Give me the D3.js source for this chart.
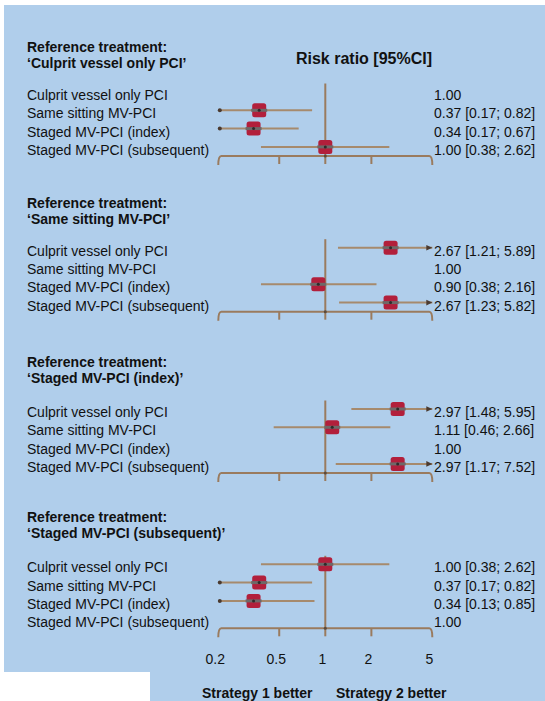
<!DOCTYPE html>
<html><head><meta charset="utf-8">
<script src="https://cdn.jsdelivr.net/npm/d3@7"></script>
<style>
html,body{margin:0;padding:0;background:#fff;}
svg{display:block;font-family:"Liberation Sans",Arial,Helvetica,sans-serif;}
</style></head>
<body>
<svg id="chart" width="545" height="701"></svg>
<script>
// ---- data ----
const treatments = ["Culprit vessel only PCI", "Same sitting MV-PCI", "Staged MV-PCI (index)", "Staged MV-PCI (subsequent)"];
const references = ["Culprit vessel only PCI", "Same sitting MV-PCI", "Staged MV-PCI (index)", "Staged MV-PCI (subsequent)"];
const rrValues = [
  [1.00, 0.37, 0.34, 1.00],
  [2.67, 1.00, 0.90, 2.67],
  [2.97, 1.11, 1.00, 2.97],
  [1.00, 0.37, 0.34, 1.00]
];
const ciLower = [
  [null, 0.17, 0.17, 0.38],
  [1.21, null, 0.38, 1.23],
  [1.48, 0.46, null, 1.17],
  [0.38, 0.17, 0.13, null]
];
const ciUpper = [
  [null, 0.82, 0.67, 2.62],
  [5.89, null, 2.16, 5.82],
  [5.95, 2.66, null, 7.52],
  [2.62, 0.82, 0.85, null]
];
const tickValues = [0.2, 0.5, 1, 2, 5];
const tickLabels = ["0.2", "0.5", "1", "2", "5"];
const axisTitle = "Risk ratio [95%CI]";
const leftLabel = "Strategy 1 better";
const rightLabel = "Strategy 2 better";

// ---- layout ----
const panelRow1 = [92, 247.7, 409, 564.3];
const headerOffset = [-40, -40, -42, -42];
const rowStep = 18.3;
const bg = "#b0ceeb";
const lineCol = "#a68a6d";
const axisCol = "#9a7b5e";
const boxCol = "#b21f3b";

const svg = d3.select("#chart");
svg.append("rect").attr("x",4).attr("y",5).attr("width",541).attr("height",667).attr("fill",bg);
svg.append("rect").attr("x",150).attr("y",671).attr("width",395).attr("height",30).attr("fill",bg);

const x = d3.scaleLog().domain([0.2, 5]).range([218.3, 432.3]);
const fmt = d3.format(".2f");

svg.append("text").attr("x",364).attr("y",64).attr("text-anchor","middle")
  .attr("font-size",16).attr("font-weight","bold").attr("fill","#111").text(axisTitle);

references.forEach((ref, p) => {
  const r1 = panelRow1[p];
  const g = svg.append("g");
  const yRow = i => r1 + i*rowStep;
  const axisY = r1 + 64;
  // header
  g.append("text").attr("x",27).attr("y",r1+headerOffset[p]).attr("font-size",14).attr("font-weight","bold")
    .attr("fill","#111").text("Reference treatment:");
  g.append("text").attr("x",27).attr("y",r1+headerOffset[p]+16).attr("font-size",14).attr("font-weight","bold")
    .attr("fill","#111").text("\u2018" + ref + "\u2019");
  // vertical line at 1
  g.append("line").attr("x1",x(1)).attr("x2",x(1)).attr("y1",r1-8.5).attr("y2",axisY)
    .attr("stroke",axisCol).attr("stroke-width",2);
  // axis
  const x0 = x(0.2), x5 = x(5);
  g.append("path").attr("d",`M${x0},${axisY+9} Q${x0},${axisY} ${x0+3},${axisY} H${x5-3} Q${x5},${axisY} ${x5},${axisY+9}`)
    .attr("fill","none").attr("stroke",axisCol).attr("stroke-width",2);
  tickValues.slice(1,-1).forEach(t => {
    g.append("line").attr("x1",x(t)).attr("x2",x(t)).attr("y1",axisY).attr("y2",axisY+8)
      .attr("stroke",axisCol).attr("stroke-width",2);
  });
  g.append("circle").attr("cx",x(1)).attr("cy",axisY).attr("r",1.5).attr("fill","#5a4a3c");

  treatments.forEach((t, i) => {
    const y = yRow(i);
    g.append("text").attr("x",27).attr("y",y+8).attr("font-size",14).attr("fill","#111").text(t);
    const v = rrValues[p][i], lo = ciLower[p][i], hi = ciUpper[p][i];
    const label = lo == null ? fmt(v) : `${fmt(v)} [${fmt(lo)}; ${fmt(hi)}]`;
    g.append("text").attr("x",434).attr("y",y+8).attr("font-size",14).attr("fill","#111").text(label);
    if (lo == null) return;
    const xl = x(Math.max(lo, 0.2)), xh = x(Math.min(hi, 5));
    g.append("line").attr("x1",xl).attr("x2",xh).attr("y1",y).attr("y2",y)
      .attr("stroke",lineCol).attr("stroke-width",2);
    if (lo < 0.2) g.append("circle").attr("cx",xl+1.5).attr("cy",y).attr("r",2).attr("fill","#4a3a30");
    if (hi > 5) g.append("path").attr("d",`M${xh},${y} L${xh-6},${y-2.8} L${xh-6},${y+2.8} Z`).attr("fill","#4a3a30");
    const cx = x(v);
    g.append("rect").attr("x",cx-7).attr("y",y-7).attr("width",14).attr("height",14).attr("rx",2.5)
      .attr("fill",boxCol);
    g.append("line").attr("x1",cx-8).attr("x2",cx+8).attr("y1",y).attr("y2",y)
      .attr("stroke","#6e6868").attr("stroke-width",3);
    g.append("circle").attr("cx",cx).attr("cy",y).attr("r",1.5).attr("fill","#2e2a2a");
  });
});

// tick labels
const axY = panelRow1[3] + 64;
tickValues.forEach((t, i) => {
  svg.append("text").attr("x",x(t)-3).attr("y",664).attr("text-anchor","middle").attr("font-size",14)
    .attr("fill","#111").text(tickLabels[i]);
});
svg.append("text").attr("x",202).attr("y",697.5).attr("font-size",14).attr("font-weight","bold").attr("fill","#111").text(leftLabel);
svg.append("text").attr("x",336).attr("y",697.5).attr("font-size",14).attr("font-weight","bold").attr("fill","#111").text(rightLabel);
</script>
</body></html>
